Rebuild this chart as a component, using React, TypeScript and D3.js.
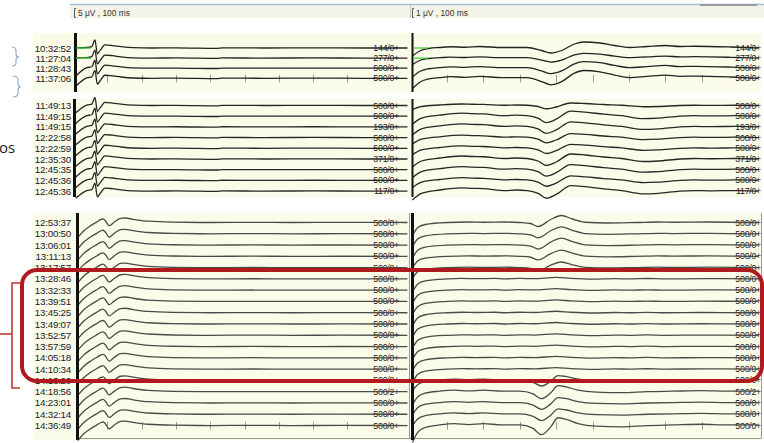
import React from 'react';
import * as d3 from 'd3';

// ---------- data ----------
const panel1Times = ['10:32:52', '11:27:04', '11:28:43', '11:37:06'];
const panel1Counts = ['144/0+', '277/0+', '500/0+', '500/0+'];
const panel2Times = ['11:49:13', '11:49:15', '11:49:15', '12:22:58', '12:22:59', '12:35:30', '12:45:35', '12:45:36', '12:45:36'];
const panel2Counts = ['500/0+', '500/0+', '193/0+', '500/0+', '500/0+', '371/0+', '500/0+', '500/0+', '117/0+'];
const panel3Times = ['12:53:37', '13:00:50', '13:06:01', '13:11:13', '13:17:57', '13:28:46', '13:32:33', '13:39:51', '13:45:25', '13:49:07', '13:52:57', '13:57:59', '14:05:18', '14:10:34', '14:13:20', '14:18:56', '14:23:01', '14:32:14', '14:36:49'];
const panel3Counts = ['500/0+', '500/0+', '500/0+', '500/0+', '500/0+', '500/0+', '500/0+', '500/0+', '500/0+', '500/0+', '500/0+', '500/0+', '500/0+', '500/0+', '500/0+', '500/2+', '500/0+', '500/0+', '500/0+'];

const leftScaleLabel = '5 μV , 100 ms';
const rightScaleLabel = '1 μV , 100 ms';
const tickTimesMs = [100, 200, 300, 400, 500, 600, 700, 800];

// waveform templates: [ms, μV]
const leftWaveEarly: [number, number][] = [
  [8, 0], [40, 0.3], [55, 0.9], [64, 5.0], [71, -3.6], [80, -1.2], [93, 1.9], [115, 1.5], [140, 0.8],
  [175, 0.2], [230, 0], [300, 0.1], [420, -0.2], [435, 0.1], [560, 0], [700, 0.1], [850, 0], [975, 0],
];
const leftWaveLate: [number, number][] = [
  [14, -9.4], [30, -5.5], [50, -2.2], [70, 0.4], [82, 1.9], [88, 2.2], [95, 0.9], [105, -2.0], [120, 0.2],
  [138, 2.6], [152, 2.8], [175, 2.0], [220, 0.8], [290, 0.2], [400, 0], [520, 0.1], [640, 0], [780, 0.05], [975, 0],
];
const rightWaveP1: [number, number][] = [
  [5, -1.6], [25, -0.6], [50, -0.1], [80, 0.1], [110, 0.25], [150, 0.15], [190, 0.3], [250, 0.1], [320, 0.1], [360, -0.5], [385, -1.0],
  [415, -0.5], [450, 0.8], [475, 1.2], [520, 1.0], [560, 0.5], [600, 0.1], [650, 0.3], [700, 0.5], [740, 0.3], [780, 0.35], [880, 0.2], [955, 0],
];
const rightWaveP2: [number, number][] = [
  [5, -1.6], [30, -0.4], [80, 0.2], [140, 0.6], [170, 0.5], [200, 0.45], [260, 0.1], [290, 0.2], [320, 0.1], [350, -0.4], [373, -1.3],
  [400, -0.6], [440, 1.0], [480, 0.8], [530, 0.4], [580, 0.1], [640, -0.5], [680, -0.4], [740, 0], [780, 0.1], [820, 0.05], [900, 0.1], [955, 0],
];
const rightWaveP3Early: [number, number][] = [
  [5, -2.6], [20, -1.0], [40, -0.4], [100, 0], [160, 0.1], [200, 0.05], [260, 0.1], [300, 0], [330, -0.2], [350, -0.8], [385, 0.6],
  [414, 1.4], [445, 0.7], [480, 0.05], [540, -0.1], [620, 0], [680, 0.1], [720, 0.05], [820, 0.1], [955, 0],
];
const rightWaveP3Flat: [number, number][] = [
  [5, -2.6], [20, -1.0], [40, -0.4], [100, 0], [140, 0.1], [180, 0.05], [230, 0.1], [260, 0], [300, 0.1], [340, 0.05], [400, 0.3], [440, 0.1],
  [500, -0.05], [560, 0.05], [600, 0], [650, 0.08], [700, 0], [800, 0.05], [955, 0],
];
const rightWaveP3Late: [number, number][] = [
  [5, -2.6], [20, -1.0], [40, -0.3], [80, 0.1], [120, 0.3], [160, 0.15], [200, 0.3], [250, 0.1], [300, 0.1], [335, -0.4], [360, -1.4],
  [385, -0.2], [405, 1.2], [425, 1.0], [460, 0.3], [510, -0.1], [580, -0.2], [650, 0], [720, 0.1], [800, 0.2], [870, 0.1], [955, 0.1],
];

// per-row values
const panel1LeftStart = [0.1, 0.1, -5, -5];
const panel1RightGain = [1.0, 0.8, 1.1, 1.3];
const panel2LeftStart = [-4.5, -4.5, -4.5, -4.5, -4.5, -4.5, -4.5, -4.5, -4.5];
const panel2RightGain = [0.5, 1.0, 1.0, 0.8, 0.8, 1.0, 1.0, 0.9, 1.1];
const panel3LeftGain = [1, 1, 1, 1, 1, 1, 1, 1, 1, 1, 1, 1, 1, 1, 1, 1, 1, 1, 1];
const panel3RightShape = ['early', 'early', 'early', 'early', 'early', 'flat', 'flat', 'flat', 'flat', 'flat', 'flat', 'flat', 'flat', 'flat', 'late', 'late', 'late', 'late', 'late'];
const panel3RightGain = [1.0, 1.0, 1.0, 0.9, 0.8, 1, 1, 1, 1, 1, 1, 1, 1, 1, 0.8, 1.0, 0.9, 0.9, 1.3];

// ---------- layout ----------
const W = 764;
const H = 443;
const leftPxPerUV = 1.6;
const rightPxPerUV = 5;
const xLeft = d3.scaleLinear().domain([0, 1000]).range([73, 416]);
const xRight = d3.scaleLinear().domain([0, 1000]).range([410.6, 774.6]);

const panels = [
  { top: 33, bottom: 92, row0: 48, step: 10.1, axisL: 75.5 },
  { top: 99, bottom: 197, row0: 105.5, step: 10.7, axisL: 74.5 },
  { top: 213, bottom: 440, row0: 222.5, step: 11.28, axisL: 77.5 },
];
const axisR = 412.5;
const CREAM = '#FBFBEA';

function tracePath(pts: [number, number][], x: d3.ScaleLinear<number, number>, base: number, k: number) {
  const y = d3.scaleLinear().domain([0, 1]).range([base, base - k]);
  return d3.line<[number, number]>().x(d => x(d[0])).y(d => y(d[1])).curve(d3.curveMonotoneX)(pts) || '';
}

function withStart(t: [number, number][], start: number): [number, number][] {
  return t.map((p, i) => (i === 0 ? [p[0], start] : p) as [number, number]);
}
function scaled(t: [number, number][], g: number): [number, number][] {
  return t.map(p => [p[0], p[1] * g] as [number, number]);
}

type RowSpec = { time: string; count: string; left: [number, number][]; right: [number, number][] };

function Panel({ idx, rows, ticks, color }: { idx: number; rows: RowSpec[]; ticks: boolean; color: string }) {
  const p = panels[idx];
  const rowY = (i: number) => p.row0 + i * p.step;
  const last = rows.length - 1;
  return (
    <g>
      <rect x={33} y={p.top} width={729} height={p.bottom - p.top} fill={CREAM} />
      {idx === 2 && (
        <g stroke="#9a9a90" strokeWidth={1} fill="none">
          <line x1={p.axisL} x2={761} y1={438.5} y2={438.5} />
          <line x1={409.5} x2={409.5} y1={p.top} y2={438.5} />
          <line x1={761.5} x2={761.5} y1={p.top} y2={438.5} />
        </g>
      )}
      {rows.map((r, i) => (
        <g key={i} fontFamily="Liberation Sans, Arial, sans-serif" fill="#1a1a1a">
          <text x={71} y={rowY(i) + 3.5} fontSize={9.8} textAnchor="end" letterSpacing={-0.25}>{r.time}</text>
          <text x={399} y={rowY(i) + 3} fontSize={8.8} textAnchor="end" letterSpacing={-0.25}>{r.count}</text>
          <text x={761} y={rowY(i) + 3} fontSize={8.8} textAnchor="end" letterSpacing={-0.25}>{r.count}</text>
        </g>
      ))}
      {ticks && (
        <g stroke="#9a9a9a" strokeWidth={1}>
          {tickTimesMs.map(t => (
            <line key={'l' + t} x1={Math.round(xLeft(t)) + 0.5} x2={Math.round(xLeft(t)) + 0.5} y1={rowY(last) - 3.5} y2={rowY(last) + 4} />
          ))}
          {tickTimesMs.map(t => (
            <line key={'r' + t} x1={Math.round(xRight(t)) + 0.5} x2={Math.round(xRight(t)) + 0.5} y1={rowY(last) - 3.5} y2={rowY(last) + 4} />
          ))}
        </g>
      )}
      {rows.map((r, i) => (
        <g key={'t' + i} fill="none" stroke={color} strokeWidth={1.3} strokeLinejoin="round">
          <path d={tracePath(r.left, xLeft, rowY(i), leftPxPerUV)} />
          <path d={tracePath(r.right, xRight, rowY(i), rightPxPerUV)} />
        </g>
      ))}
      <line x1={p.axisL} x2={p.axisL} y1={p.top} y2={p.bottom} stroke="#111" strokeWidth={3} />
      <line x1={axisR} x2={axisR} y1={p.top} y2={p.bottom} stroke="#111" strokeWidth={idx === 2 ? 3 : 2} />
    </g>
  );
}

export default function App() {
  const rows1: RowSpec[] = panel1Times.map((t, i) => ({
    time: t,
    count: panel1Counts[i],
    left: withStart(leftWaveEarly, panel1LeftStart[i]),
    right: scaled(rightWaveP1, panel1RightGain[i]),
  }));
  const rows2: RowSpec[] = panel2Times.map((t, i) => ({
    time: t,
    count: panel2Counts[i],
    left: withStart(leftWaveEarly, panel2LeftStart[i]),
    right: scaled(rightWaveP2, panel2RightGain[i]),
  }));
  const shapes: Record<string, [number, number][]> = { early: rightWaveP3Early, flat: rightWaveP3Flat, late: rightWaveP3Late };
  const rows3: RowSpec[] = panel3Times.map((t, i) => ({
    time: t,
    count: panel3Counts[i],
    left: scaled(leftWaveLate, panel3LeftGain[i]),
    right: scaled(shapes[panel3RightShape[i]], panel3RightGain[i]),
  }));
  const p1 = panels[0];
  return (
    <svg width={W} height={H} style={{ position: 'absolute', left: 0, top: 0, background: '#fff' }}>
      {/* header strip */}
      <rect x={70} y={4} width={694} height={14} fill="#F3F3E9" />
      <line x1={70} x2={764} y1={4.5} y2={4.5} stroke="#A9BED6" strokeWidth={1.5} />
      <line x1={700} x2={757} y1={5} y2={5} stroke="#8a8a8a" strokeWidth={1.5} />
      <line x1={410.5} x2={410.5} y1={5} y2={18} stroke="#c8c8c0" strokeWidth={1} />
      <g stroke="#333" strokeWidth={0.8} fill="none">
        <path d="M76,8.5 L74.5,8.5 L74.5,17.5 L76,17.5" />
        <path d="M414,8.5 L412.5,8.5 L412.5,17.5 L414,17.5" />
      </g>
      <text x={78} y={15.5} fontSize={8.4} fontFamily="Liberation Sans, Arial, sans-serif" fill="#333">{leftScaleLabel}</text>
      <text x={416} y={15.5} fontSize={8.4} fontFamily="Liberation Sans, Arial, sans-serif" fill="#333">{rightScaleLabel}</text>

      <Panel idx={0} rows={rows1} ticks={true} color="#222" />
      <Panel idx={1} rows={rows2} ticks={false} color="#262626" />
      <Panel idx={2} rows={rows3} ticks={true} color="#4a4a4a" />

      {/* green markers in first panel */}
      <g stroke="#33CC33" strokeWidth={1.2}>
        {[0, 1].map(i => (
          <g key={i}>
            <line x1={76} x2={91} y1={p1.row0 + i * p1.step} y2={p1.row0 + i * p1.step} />
            <line x1={413} x2={428} y1={p1.row0 + i * p1.step} y2={p1.row0 + i * p1.step} />
          </g>
        ))}
      </g>

      {/* annotations */}
      <g stroke="#8FA9CC" strokeWidth={1.1} fill="none">
        <path d="M12,47 Q16,47 16,51 L16,54 Q16,57 19,57 Q16,57 16,60 L16,63 Q16,66 12,66" />
        <path d="M13,76 Q18,76 18,80 L18,84 Q18,87 21,87 Q18,87 18,90 L18,93 Q18,97 13,97" />
      </g>
      <text x={-1} y={153} fontSize={15} fontFamily="Open Sans, sans-serif" fill="#222">os</text>
      <g stroke="#C0392B" strokeWidth={1.6} fill="none">
        <path d="M20,283 L12,283 L12,388 L20,388" />
        <path d="M0,334 L12,334" />
      </g>
      <rect x={22} y={270} width={740} height={111} rx={15} ry={15} fill="none" stroke="#B0191E" strokeWidth={4} />
    </svg>
  );
}
